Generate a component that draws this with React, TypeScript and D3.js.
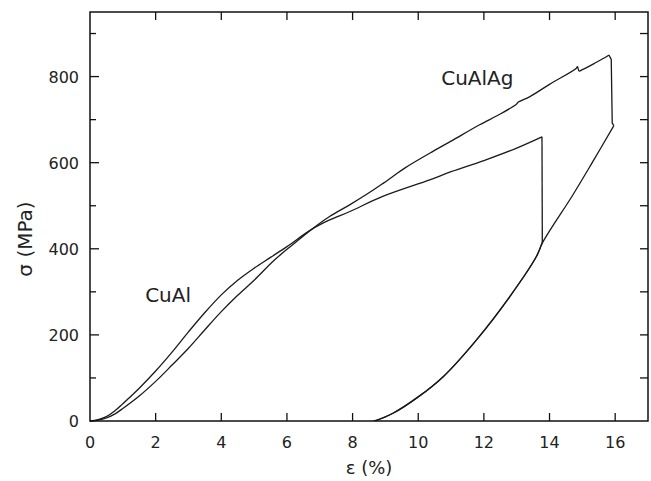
import React from "react";
import * as d3 from "d3";

// strain (%) / stress (MPa)
const cuAlEps = [0, 0.25, 0.5, 0.75, 1.0, 1.5, 2.0, 2.5, 3.0, 3.5, 4.0, 4.5, 5.0, 5.5, 6.0, 6.75, 7.3, 7.9, 8.9, 10.35, 11.0, 12.0, 13.0, 13.77, 13.78, 13.6, 12.79, 11.77, 10.76, 10.0, 9.23, 8.64];
const cuAlSig = [0, 3, 10, 23, 40, 76, 116, 160, 207, 252, 293, 327, 355, 380, 405, 445, 467, 486, 521, 560, 579, 605, 634, 660, 416, 382, 289, 188, 103, 56, 18, 0];

const cuAlAgEps = [0, 0.25, 0.5, 0.75, 1.0, 1.5, 2.0, 2.5, 3.0, 3.5, 4.0, 4.5, 5.0, 5.62, 6.2, 6.75, 7.3, 7.91, 8.5, 8.93, 9.1, 9.3, 9.6, 10.35, 11.0, 11.87, 12.5, 12.99, 13.05, 13.39, 14.0, 14.81, 14.85, 14.9, 15.0, 15.4, 15.73, 15.81, 15.88, 15.91, 15.96, 15.3, 14.71, 13.8, 13.6, 12.79, 11.77, 10.76, 10.0, 9.23, 8.7];
const cuAlAgSig = [0, 2, 7, 16, 29, 58, 92, 130, 169, 212, 254, 292, 327, 374, 411, 445, 475, 502, 530, 552, 561, 572, 588, 622, 650, 688, 713, 736, 741, 753, 782, 819, 823, 813, 816, 832, 846, 850, 840, 692, 686, 600, 525, 416, 382, 289, 188, 103, 56, 18, 0];

// where the curves drop off at the end of loading: [start, end] index of the straight part
const cuAlDrop = [23, 24];
const cuAlAgDrop = [37, 40];

const xTicks = [0, 2, 4, 6, 8, 10, 12, 14, 16];
const yTicks = [0, 200, 400, 600, 800];
const yMinor = [100, 300, 500, 700, 900];

const labels = [
  { name: "CuAl", eps: 1.68, sig: 277 },
  { name: "CuAlAg", eps: 10.7, sig: 780 },
];

const font = "'DejaVu Sans', sans-serif";

const App = () => {
  const width = 651;
  const height = 481;
  const margin = { top: 12, right: 3, bottom: 60, left: 90 };

  const x = d3.scaleLinear().domain([0, 17]).range([margin.left, width - margin.right]);
  const y = d3.scaleLinear().domain([0, 950]).range([height - margin.bottom, margin.top]);

  const smooth = d3.line<[number, number]>()
    .x(d => x(d[0]))
    .y(d => y(d[1]))
    .curve(d3.curveCatmullRom.alpha(0.5));
  const straight = d3.line<[number, number]>()
    .x(d => x(d[0]))
    .y(d => y(d[1]));

  const pieces = (eps: number[], sig: number[], drop: number[]) => {
    const pts = d3.zip(eps, sig) as [number, number][];
    return [
      smooth(pts.slice(0, drop[0] + 1)),
      straight(pts.slice(drop[0], drop[1] + 1)),
      smooth(pts.slice(drop[1])),
    ];
  };

  const paths = [
    ...pieces(cuAlEps, cuAlSig, cuAlDrop),
    ...pieces(cuAlAgEps, cuAlAgSig, cuAlAgDrop),
  ];

  const x0 = x(0), x1 = x(17), y0 = y(0), y1 = y(950);

  return (
    <svg width={width} height={height} style={{ position: "absolute", left: 0, top: 0, background: "#fff" }}>
      <g fill="none" stroke="#1a1a1a" strokeWidth={1.3} strokeLinejoin="round">
        {paths.map((p, i) => <path key={i} d={p ?? ""}></path>)}
      </g>

      <rect x={x0} y={y1} width={x1 - x0} height={y0 - y1} fill="none" stroke="#111" strokeWidth={1.5}></rect>

      <g stroke="#111" strokeWidth={1.3}>
        {xTicks.slice(1).map(d => (
          <g key={"x" + d}>
            <line x1={x(d)} x2={x(d)} y1={y0} y2={y0 - 8}></line>
            <line x1={x(d)} x2={x(d)} y1={y1} y2={y1 + 8}></line>
          </g>
        ))}
        {yTicks.slice(1).map(d => (
          <g key={"y" + d}>
            <line x1={x0} x2={x0 + 9} y1={y(d)} y2={y(d)}></line>
            <line x1={x1} x2={x1 - 8} y1={y(d)} y2={y(d)}></line>
          </g>
        ))}
        {yMinor.map(d => (
          <g key={"m" + d}>
            <line x1={x0} x2={x0 + 6} y1={y(d)} y2={y(d)}></line>
            <line x1={x1} x2={x1 - 8} y1={y(d)} y2={y(d)}></line>
          </g>
        ))}
      </g>

      <g fontFamily={font} fontSize={16} fill="#222">
        {xTicks.map(d => (
          <text key={"xl" + d} x={x(d)} y={y0 + 27} textAnchor="middle">{d}</text>
        ))}
        {yTicks.map(d => (
          <text key={"yl" + d} x={x0 - 11} y={y(d) + 6} textAnchor="end">{d}</text>
        ))}
      </g>

      <text x={(x0 + x1) / 2} y={474} textAnchor="middle" fontFamily={font} fontSize={18} fill="#222">ε (%)</text>
      <text transform="translate(32, 239) rotate(-90)" textAnchor="middle" fontFamily={font} fontSize={20} fill="#222">σ (MPa)</text>

      <g fontFamily={font} fontSize={20} fill="#222">
        {labels.map(l => (
          <text key={l.name} x={x(l.eps)} y={y(l.sig)}>{l.name}</text>
        ))}
      </g>
    </svg>
  );
};

export default App;
